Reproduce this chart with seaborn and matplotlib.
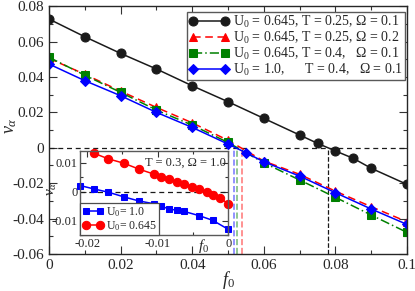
import numpy as np
import pandas as pd
import matplotlib
matplotlib.use('Agg')
import matplotlib.pyplot as plt
import seaborn as sns
from matplotlib.ticker import MultipleLocator, FuncFormatter

# main panel data
f0_black = [0, 0.01, 0.02, 0.03, 0.04, 0.05, 0.06, 0.07, 0.075, 0.08, 0.085, 0.09, 0.1]
v_black = [0.0727, 0.0627, 0.0533, 0.0445, 0.035, 0.026, 0.0166, 0.0072, 0.0025, -0.0018, -0.006, -0.0116, -0.0207]
f0_red = [0, 0.01, 0.02, 0.03, 0.04, 0.05, 0.06, 0.07, 0.08, 0.09, 0.1]
v_red = [0.0505, 0.0415, 0.032, 0.0228, 0.0141, 0.0042, -0.0075, -0.015, -0.0245, -0.0333, -0.0418]
f0_green = [0, 0.01, 0.02, 0.03, 0.04, 0.05, 0.06, 0.07, 0.08, 0.09, 0.1]
v_green = [0.0511, 0.041, 0.0313, 0.0213, 0.0128, 0.003, -0.0085, -0.0182, -0.028, -0.038, -0.0478]
f0_blue = [0, 0.01, 0.02, 0.03, 0.04, 0.05, 0.055, 0.06, 0.07, 0.08, 0.09, 0.1]
v_blue = [0.0473, 0.0379, 0.0294, 0.02, 0.0115, 0.0021, -0.0028, -0.0079, -0.016, -0.0254, -0.0346, -0.0433]
labels = [r'U$_0$ = 0.645, T = 0.25, Ω = 0.1',
          r'U$_0$ = 0.645, T = 0.25, Ω = 0.2',
          r'U$_0$ = 0.645, T = 0.4,   Ω = 0.1',
          r'U$_0$ = 1.0,      T = 0.4,   Ω = 0.1']
# zero crossings (vertical markers)
cross_black = 0.0779
cross_blue = 0.0518
cross_green = 0.0526
cross_red = 0.0538

# inset data
f0_in_red = [-0.019, -0.017, -0.0148, -0.0127, -0.0105, -0.0095, -0.0084, -0.0073, -0.0063, -0.0052, -0.0041, -0.003, -0.0021, -0.0011, 0.0]
v_in_red = [0.0132, 0.0113, 0.0098, 0.0078, 0.006, 0.005, 0.0043, 0.0034, 0.0026, 0.0017, 0.0008, -0.0002, -0.0011, -0.0023, -0.0042]
f0_in_blue = [-0.021, -0.019, -0.017, -0.0148, -0.0127, -0.0105, -0.0095, -0.0084, -0.0073, -0.0063, -0.0041, -0.0022, 0.0]
v_in_blue = [0.0021, 0.0009, -0.0002, -0.0018, -0.0032, -0.0042, -0.005, -0.006, -0.0064, -0.0068, -0.0083, -0.0099, -0.013]

sns.set_theme(style='ticks')
plt.rcParams['font.family'] = ['Liberation Serif', 'DejaVu Serif']
plt.rcParams['mathtext.fontset'] = 'custom'
plt.rcParams['mathtext.rm'] = 'Liberation Serif'
plt.rcParams['mathtext.it'] = 'Liberation Serif:italic'
plt.rcParams['axes.unicode_minus'] = False

fig = plt.figure(figsize=(4.15, 2.91), dpi=100)
ax = fig.add_axes([0.118, 0.127, 0.863, 0.852])

ax.axhline(0, color='k', ls='--', lw=0.9, dashes=(4, 3), zorder=1)
ax.vlines(cross_black, -0.06, 0, color='k', ls='--', lw=0.9, zorder=1)
ax.vlines(cross_blue, -0.06, 0, color='#7f7fff', ls='--', lw=1.2, zorder=1)
ax.vlines(cross_green, -0.06, 0, color='#7fbf7f', ls='--', lw=1.2, zorder=1)
ax.vlines(cross_red, -0.06, 0, color='#ff7f7f', ls='--', lw=1.2, zorder=1)

sns.lineplot(x=f0_black, y=v_black, ax=ax, color='k', marker='o', ms=6.5, mec='k', lw=1.1, label=labels[0])
sns.lineplot(x=f0_red, y=v_red, ax=ax, color='red', marker='^', ms=6, mec='red', lw=1.1, dashes=(5, 3), label=labels[1])
sns.lineplot(x=f0_green, y=v_green, ax=ax, color='green', marker='s', ms=5.5, mec='green', lw=1.1, dashes=(6, 2, 1, 2), label=labels[2])
sns.lineplot(x=f0_blue, y=v_blue, ax=ax, color='blue', marker='D', ms=5.5, mec='blue', lw=1.1, label=labels[3])

ax.set_xlim(0, 0.1)
ax.set_ylim(-0.06, 0.08)
fmt = FuncFormatter(lambda v, p: '0' if abs(v) < 1e-9 else '%g' % v)
ax.xaxis.set_major_locator(MultipleLocator(0.02))
ax.xaxis.set_minor_locator(MultipleLocator(0.01))
ax.yaxis.set_major_locator(MultipleLocator(0.02))
ax.yaxis.set_minor_locator(MultipleLocator(0.01))
ax.xaxis.set_major_formatter(fmt)
ax.yaxis.set_major_formatter(fmt)
ax.tick_params(which='both', direction='in', top=True, right=True, labelsize=11, color='0.2')
ax.tick_params(which='major', length=6, width=0.8)
ax.tick_params(which='minor', length=3, width=0.8)
for s in ax.spines.values():
    s.set_color('0.15')
    s.set_linewidth(1.0)
ax.set_xlabel(r'$f_0$', fontsize=13)
ax.set_ylabel(r'$v_\alpha$', fontsize=13)
ax.xaxis.set_label_coords(0.5, -0.06)
ax.yaxis.set_label_coords(-0.085, 0.52)

leg = ax.legend(loc='upper right', bbox_to_anchor=(0.995, 0.977), borderaxespad=0, fontsize=10, numpoints=2,
                handlelength=2.9, handletextpad=0.3, labelspacing=0.0, borderpad=0.15,
                frameon=True, fancybox=False, framealpha=1, edgecolor='0.35')
leg.get_frame().set_linewidth(1.0)

# inset
ins = fig.add_axes([0.193, 0.192, 0.357, 0.289])
ins.axhline(0, color='k', ls='--', lw=0.9, dashes=(4, 3), zorder=1)
sns.lineplot(x=f0_in_blue, y=v_in_blue, ax=ins, color='blue', marker='s', ms=5, mec='blue', lw=1.1,
             label=r'U$_0$= 1.0', clip_on=False)
sns.lineplot(x=f0_in_red, y=v_in_red, ax=ins, color='red', marker='o', ms=6, mec='red', lw=1.1,
             label=r'U$_0$= 0.645', clip_on=False)
ins.set_xlim(-0.021, 0.0)
ins.set_ylim(-0.015, 0.014)
ins.xaxis.set_major_locator(MultipleLocator(0.01))
ins.xaxis.set_minor_locator(MultipleLocator(0.005))
ins.yaxis.set_major_locator(MultipleLocator(0.01))
ins.yaxis.set_minor_locator(MultipleLocator(0.005))
ins.xaxis.set_major_formatter(fmt)
ins.yaxis.set_major_formatter(fmt)
ins.tick_params(which='both', direction='in', top=True, right=True, labelsize=9, color='0.2', pad=2)
ins.tick_params(which='major', length=4, width=0.8)
ins.tick_params(which='minor', length=2, width=0.8)
for s in ins.spines.values():
    s.set_color('0.35')
    s.set_linewidth(1.0)
ins.set_xlabel(r'$f_0$', fontsize=11)
ins.set_ylabel(r'$v_\alpha$', fontsize=11)
ins.xaxis.set_label_coords(0.83, -0.02)
ins.yaxis.set_label_coords(-0.14, 0.55)
ins.text(0.985, 0.86, 'T = 0.3, Ω = 1.0', transform=ins.transAxes, ha='right', va='center', fontsize=9)
ileg = ins.legend(loc='lower left', bbox_to_anchor=(0, 0), fontsize=8.5, numpoints=2,
                  handlelength=1.8, handletextpad=0.2, labelspacing=0.0, borderpad=0.2,
                  borderaxespad=0, frameon=True, fancybox=False, framealpha=1, edgecolor='0.3')
ileg.get_frame().set_linewidth(0.9)

fig.savefig('out.png', dpi=100)
